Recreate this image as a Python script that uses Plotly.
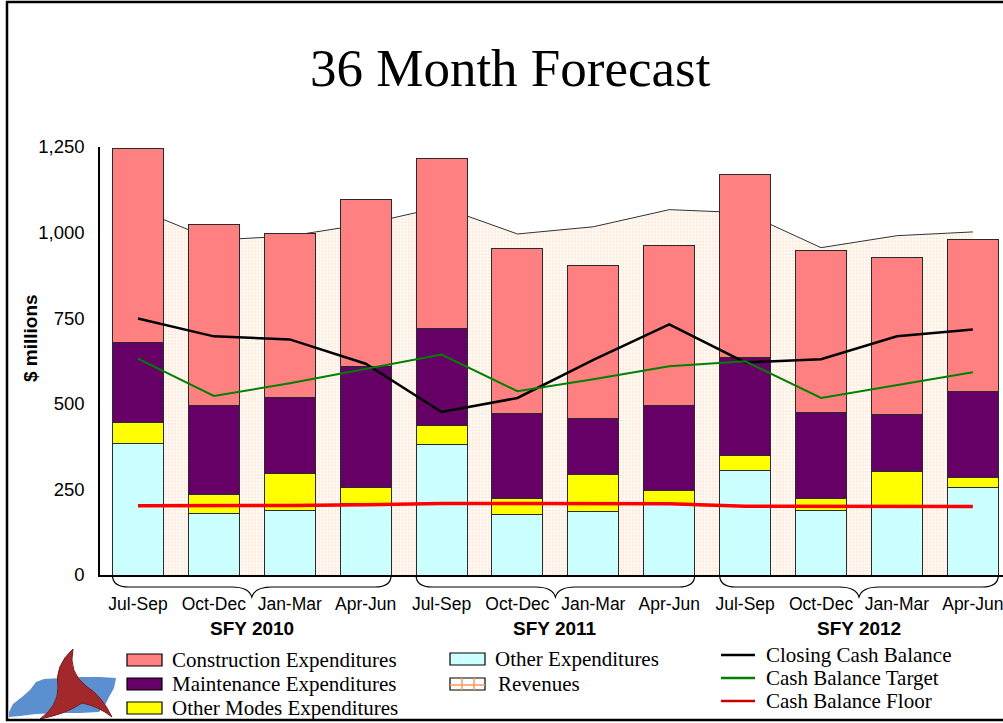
import plotly.graph_objects as go

# Quarterly categories across three state fiscal years
quarters = ["Jul-Sep", "Oct-Dec", "Jan-Mar", "Apr-Jun"] * 3
fiscal_years = ["SFY 2010", "SFY 2011", "SFY 2012"]
slots = list(range(12))

# Expenditures ($ millions), stacked bottom to top
other_exp = [384, 181, 188, 210, 382, 177, 186, 208, 306, 188, 197, 257]
other_modes_exp = [61, 53, 108, 45, 54, 46, 108, 38, 43, 34, 104, 29]
maintenance_exp = [234, 260, 223, 355, 284, 250, 164, 248, 286, 253, 168, 251]
construction_exp = [567, 531, 477, 486, 497, 480, 447, 469, 535, 474, 457, 444]

# Revenues ($ millions)
revenues = [1069, 978, 990, 1025, 1075, 996, 1017, 1067, 1058, 956, 991, 1002]

# Cash balances ($ millions)
closing_cash = [749, 697, 688, 617, 476, 517, 628, 732, 621, 630, 697, 717]
cash_target = [632, 523, 560, 603, 644, 537, 572, 610, 624, 517, 554, 592]
cash_floor = [202, 202, 203, 205, 209, 209, 208, 208, 201, 200, 200, 200]

y_ticks = [0, 250, 500, 750, 1000, 1250]
y_labels = ["0", "250", "500", "750", "1,000", "1,250"]

W, H = 1003, 723
ML, MR, MT, MB = 100, 0, 147, 148
PW, PH = W - ML - MR, H - MT - MB


def px(x):
    return (x - ML) / PW


def py(y):
    return (H - MB - y) / PH


SANS = "Liberation Sans, Arial, sans-serif"
SERIF = "Liberation Serif, Times New Roman, serif"

fig = go.Figure()

# Revenue area sits on the base axes so the bars draw over it
fig.add_trace(go.Scatter(
    x=slots, y=revenues, mode="lines", name="Revenues",
    line=dict(color="#333333", width=1),
    fill="tozeroy",
    fillpattern=dict(shape="+", fgcolor="#FFBF8C", bgcolor="#FFFFFF",
                     size=3.2, solidity=0.35),
    showlegend=False, hoverinfo="skip", xaxis="x", yaxis="y",
))

bar_line = dict(color="#2a2a2a", width=1)
for vals, color, name in [
    (other_exp, "#CCFFFF", "Other Expenditures"),
    (other_modes_exp, "#FFFF00", "Other Modes Expenditures"),
    (maintenance_exp, "#660066", "Maintenance Expenditures"),
    (construction_exp, "#FF8080", "Construction Expenditures"),
]:
    fig.add_trace(go.Bar(
        x=slots, y=vals, name=name, marker=dict(color=color, line=bar_line),
        showlegend=False, xaxis="x2", yaxis="y2",
    ))

for vals, color, width, name in [
    (closing_cash, "#000000", 2.5, "Closing Cash Balance"),
    (cash_target, "#008000", 2, "Cash Balance Target"),
    (cash_floor, "#FF0000", 3.5, "Cash Balance Floor"),
]:
    fig.add_trace(go.Scatter(
        x=slots, y=vals, mode="lines", name=name,
        line=dict(color=color, width=width),
        showlegend=False, xaxis="x2", yaxis="y2",
    ))

x_range = [-0.5, -0.5 + PW / 75.9]
y_range = [0, 1250]

shapes = []
annotations = []

# Fiscal-year braces beneath the quarter groups
slot_px = PW / (x_range[1] - x_range[0])


def slot_x(v):
    return ML + (v - x_range[0]) * slot_px


half_bar = 25.5
for g, label in enumerate(fiscal_years):
    xl = slot_x(4 * g) - half_bar
    xr = slot_x(4 * g + 3) + half_bar
    xm = slot_x(4 * g + 1.5)
    y0, yh, yc = 575, 587, 597
    pts = (
        f"M {px(xl)},{py(y0)} "
        f"Q {px(xl)},{py(yh)} {px(xl + 16)},{py(yh)} "
        f"L {px(xm - 20)},{py(yh)} "
        f"Q {px(xm - 3)},{py(yh)} {px(xm)},{py(yc)} "
        f"Q {px(xm + 3)},{py(yh)} {px(xm + 20)},{py(yh)} "
        f"L {px(xr - 16)},{py(yh)} "
        f"Q {px(xr)},{py(yh)} {px(xr)},{py(y0)}"
    )
    shapes.append(dict(type="path", xref="paper", yref="paper", path=pts,
                       line=dict(color="#000000", width=1.2)))
    annotations.append(dict(
        x=px(xm), y=py(628), xref="paper", yref="paper", text=f"<b>{label}</b>",
        showarrow=False, font=dict(family=SANS, size=19, color="#000000"),
        xanchor="center", yanchor="middle",
    ))

# Title and axis caption
annotations.append(dict(
    x=px(510), y=py(68), xref="paper", yref="paper", text="36 Month Forecast",
    showarrow=False, font=dict(family=SERIF, size=53, color="#000000"),
    xanchor="center", yanchor="middle",
))
annotations.append(dict(
    x=px(30), y=py(338), xref="paper", yref="paper", text="<b>$ millions</b>",
    showarrow=False, textangle=-90, font=dict(family=SANS, size=19, color="#000000"),
    xanchor="center", yanchor="middle",
))

# Legend: swatches and labels
leg_font = dict(family=SERIF, size=21, color="#000000")
box_items = [
    (127, 660, "#FF8080", "Construction Expenditures"),
    (127, 684, "#660066", "Maintenance Expenditures"),
    (127, 708, "#FFFF00", "Other Modes Expenditures"),
    (450, 659, "#CCFFFF", "Other Expenditures"),
]
for x0, yc, color, label in box_items:
    shapes.append(dict(type="rect", xref="paper", yref="paper",
                       x0=px(x0), x1=px(x0 + 35), y0=py(yc + 6), y1=py(yc - 6),
                       fillcolor=color, line=dict(color="#000000", width=1.2)))
    annotations.append(dict(x=px(x0 + 43), y=py(yc), xref="paper", yref="paper",
                            text=label, showarrow=False, font=leg_font,
                            xanchor="left", yanchor="middle"))

# Revenues swatch with its grid marks
rx0, ryc = 450, 684
shapes.append(dict(type="rect", xref="paper", yref="paper",
                   x0=px(rx0), x1=px(rx0 + 35), y0=py(ryc + 6), y1=py(ryc - 6),
                   fillcolor="#FFFFFF", line=dict(color="#000000", width=1.2)))
for gx in (rx0 + 12, rx0 + 24):
    shapes.append(dict(type="line", xref="paper", yref="paper",
                       x0=px(gx), x1=px(gx), y0=py(ryc + 6), y1=py(ryc - 6),
                       line=dict(color="#FF9955", width=1.5)))
shapes.append(dict(type="line", xref="paper", yref="paper",
                   x0=px(rx0), x1=px(rx0 + 35), y0=py(ryc + 1), y1=py(ryc + 1),
                   line=dict(color="#FF9955", width=1.5)))
annotations.append(dict(x=px(rx0 + 46), y=py(ryc), xref="paper", yref="paper",
                        text="Revenues", showarrow=False, font=leg_font,
                        xanchor="left", yanchor="middle"))

line_items = [
    (655, "#000000", "Closing Cash Balance"),
    (678, "#008000", "Cash Balance Target"),
    (701, "#CC0000", "Cash Balance Floor"),
]
for yc, color, label in line_items:
    shapes.append(dict(type="line", xref="paper", yref="paper",
                       x0=px(721), x1=px(755), y0=py(yc), y1=py(yc),
                       line=dict(color=color, width=2.5)))
    annotations.append(dict(x=px(764), y=py(yc), xref="paper", yref="paper",
                            text=label, showarrow=False, font=leg_font,
                            xanchor="left", yanchor="middle"))


# Logo: blue state outline with a red three-point swirl
def poly(points):
    return "M " + " L ".join(f"{px(a)},{py(b)}" for a, b in points) + " Z"


state = [(9, 712), (13, 704), (22, 697), (30, 690), (36, 682), (44, 679),
         (62, 678), (82, 677), (100, 677), (116, 678), (114, 688), (109, 697),
         (105, 705), (99, 712), (80, 713), (58, 713), (36, 714), (20, 716),
         (9, 717)]
shapes.append(dict(type="path", xref="paper", yref="paper", path=poly(state),
                   fillcolor="#5B8FD0", line=dict(width=0)))
swirl = (
    f"M {px(73)},{py(649)} "
    f"Q {px(54)},{py(666)} {px(58)},{py(688)} "
    f"Q {px(58)},{py(706)} {px(40)},{py(719)} "
    f"Q {px(66)},{py(714)} {px(82)},{py(703)} "
    f"Q {px(98)},{py(706)} {px(112)},{py(717)} "
    f"Q {px(102)},{py(696)} {px(86)},{py(686)} "
    f"Q {px(68)},{py(672)} {px(73)},{py(649)} Z"
)
shapes.append(dict(type="path", xref="paper", yref="paper", path=swirl,
                   fillcolor="#A3282C", line=dict(color="#7A1A1E", width=1)))

# Outer frame
shapes.append(dict(type="rect", xref="paper", yref="paper",
                   x0=px(7), x1=px(1012), y0=py(720), y1=py(2),
                   line=dict(color="#000000", width=2.5)))

fig.update_layout(
    width=W, height=H,
    margin=dict(l=ML, r=MR, t=MT, b=MB, pad=0),
    paper_bgcolor="#FFFFFF", plot_bgcolor="#FFFFFF",
    barmode="stack", bargap=0.328,
    showlegend=False,
    xaxis=dict(range=x_range, tickvals=slots, ticktext=quarters, tickangle=0,
               showline=True, linecolor="#000000", linewidth=1.5,
               showgrid=False, zeroline=False, ticks="",
               ticklabelstandoff=12, ticklabeloverflow="allow",
               tickfont=dict(family=SANS, size=17.5, color="#000000")),
    yaxis=dict(range=y_range, tickvals=y_ticks, ticktext=y_labels,
               showline=True, linecolor="#000000", linewidth=1.5,
               showgrid=False, zeroline=False, ticks="",
               ticklabelstandoff=10,
               tickfont=dict(family=SANS, size=18.5, color="#000000")),
    xaxis2=dict(range=x_range, overlaying="x", visible=False),
    yaxis2=dict(range=y_range, overlaying="y", visible=False),
    shapes=shapes,
    annotations=annotations,
)

fig.write_html("out.html")
